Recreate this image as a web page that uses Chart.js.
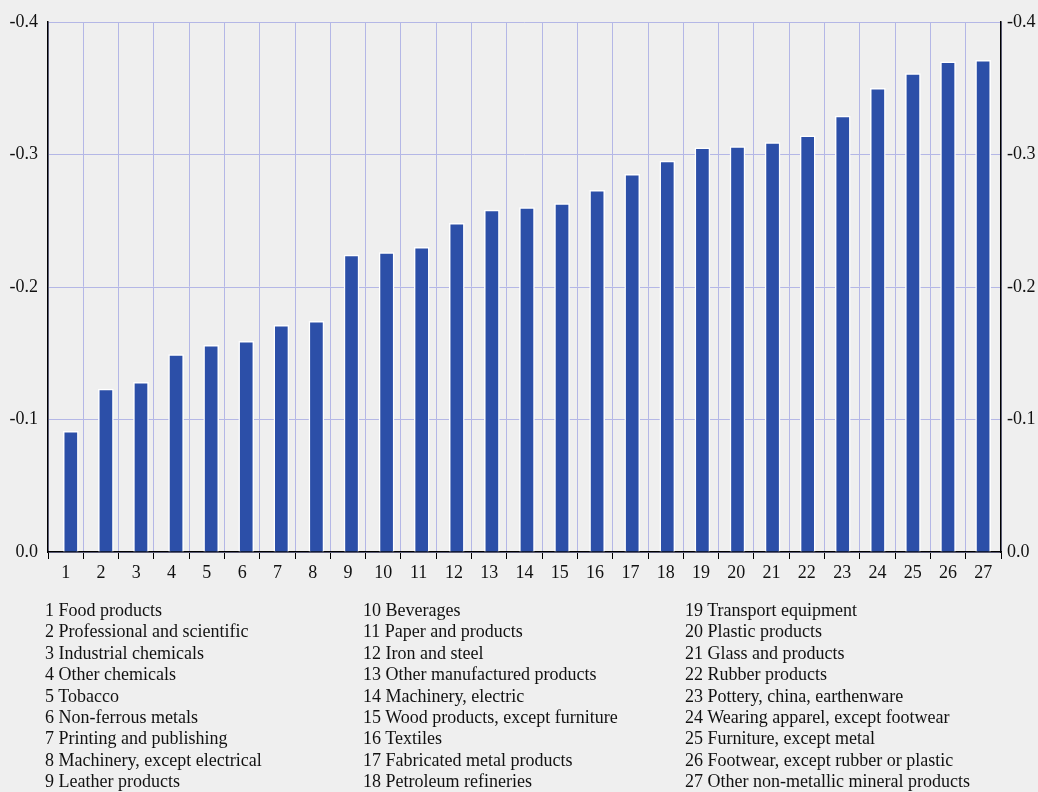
<!DOCTYPE html>
<html>
<head>
<meta charset="utf-8">
<script src="https://cdn.jsdelivr.net/npm/chart.js@4/dist/chart.umd.min.js"></script>
<style>
  html, body { margin: 0; padding: 0; background: #efefef; }
  #wrap { position: relative; width: 1038px; height: 792px; overflow: hidden; }
  #chart { position: absolute; left: 0; top: 0; }
  .col { position: absolute; top: 600px; font-family: 'Liberation Serif', 'Times New Roman', serif;
         font-size: 18px; line-height: 21.4px; color: #111; white-space: nowrap; }
</style>
</head>
<body>
<div id="wrap">
  <canvas id="chart" width="1038" height="792"></canvas>
  <div class="col" id="col1" style="left:45px"></div>
  <div class="col" id="col2" style="left:363px"></div>
  <div class="col" id="col3" style="left:685px"></div>
</div>
<script>
// industry names, numbered 1..27 on the axis
const industries = [
  'Food products', 'Professional and scientific', 'Industrial chemicals',
  'Other chemicals', 'Tobacco', 'Non-ferrous metals', 'Printing and publishing',
  'Machinery, except electrical', 'Leather products',
  'Beverages', 'Paper and products', 'Iron and steel', 'Other manufactured products',
  'Machinery, electric', 'Wood products, except furniture', 'Textiles',
  'Fabricated metal products', 'Petroleum refineries',
  'Transport equipment', 'Plastic products', 'Glass and products', 'Rubber products',
  'Pottery, china, earthenware', 'Wearing apparel, except footwear',
  'Furniture, except metal', 'Footwear, except rubber or plastic',
  'Other non-metallic mineral products'
];
const categories = industries.map((_, i) => String(i + 1));
const values = [
  -0.091, -0.123, -0.128, -0.149, -0.156, -0.159, -0.171, -0.174, -0.224,
  -0.226, -0.230, -0.248, -0.258, -0.260, -0.263, -0.273, -0.285, -0.295,
  -0.305, -0.306, -0.309, -0.314, -0.329, -0.350, -0.361, -0.370, -0.371
];
const yTicks = [-0.4, -0.3, -0.2, -0.1, 0.0];

// legend text in three columns of nine
['col1', 'col2', 'col3'].forEach(function (id, c) {
  const el = document.getElementById(id);
  el.innerHTML = industries.slice(c * 9, c * 9 + 9)
    .map((name, i) => (c * 9 + i + 1) + ' ' + name).join('<br>');
});

const serif = "'Liberation Serif', 'Times New Roman', serif";
const gridBlue = '#b4b7e6';

const bgPlugin = {
  id: 'bg',
  beforeDraw(chart) {
    const c = chart.ctx;
    c.save();
    c.fillStyle = '#efefef';
    c.fillRect(0, 0, chart.width, chart.height);
    c.restore();
  }
};

const tickCb = function (v) { return Number(v).toFixed(1); };

new Chart(document.getElementById('chart'), {
  type: 'bar',
  data: {
    labels: categories,
    datasets: [{
      // bars sit on their own (hidden) numeric axis, slightly inset from the category grid
      data: values.map((v, i) => ({ x: i + 1, y: v })),
      xAxisID: 'xb',
      backgroundColor: '#2c4fa8',
      borderColor: '#ffffff',
      borderWidth: 1.5,
      borderSkipped: 'start',
      barThickness: 15
    }]
  },
  options: {
    responsive: false,
    animation: false,
    layout: { padding: { top: 22, bottom: 200, left: 0, right: 0 } },
    plugins: { legend: { display: false }, tooltip: { enabled: false } },
    scales: {
      x: {
        type: 'category',
        offset: true,
        grid: {
          offset: true,
          color: gridBlue,
          tickColor: '#000',
          tickLength: 7,
          lineWidth: 1
        },
        border: { color: '#000', width: 1.5 },
        ticks: { color: '#111', font: { family: serif, size: 18 }, padding: 3, maxRotation: 0 },
        afterFit(s) { s.height = 40; }
      },
      xb: {
        type: 'linear',
        display: false,
        offset: false,
        bounds: 'ticks',
        min: 0.35,
        max: 27.51,
        grid: { display: false }
      },
      y: {
        position: 'left',
        reverse: true,
        min: -0.4,
        max: 0,
        afterBuildTicks(s) { s.ticks = yTicks.map(v => ({ value: v })); },
        grid: { color: gridBlue, drawTicks: false },
        border: { color: '#000', width: 1.5 },
        ticks: { color: '#111', font: { family: serif, size: 18 }, padding: 10, callback: tickCb },
        afterFit(s) { s.width = 48; }
      },
      y2: {
        position: 'right',
        reverse: true,
        min: -0.4,
        max: 0,
        afterBuildTicks(s) { s.ticks = yTicks.map(v => ({ value: v })); },
        grid: { drawOnChartArea: false, drawTicks: false },
        border: { color: '#000', width: 1.5 },
        ticks: { color: '#111', font: { family: serif, size: 18 }, padding: 6, callback: tickCb },
        afterFit(s) { s.width = 37; }
      }
    }
  },
  plugins: [bgPlugin]
});
</script>
</body>
</html>
